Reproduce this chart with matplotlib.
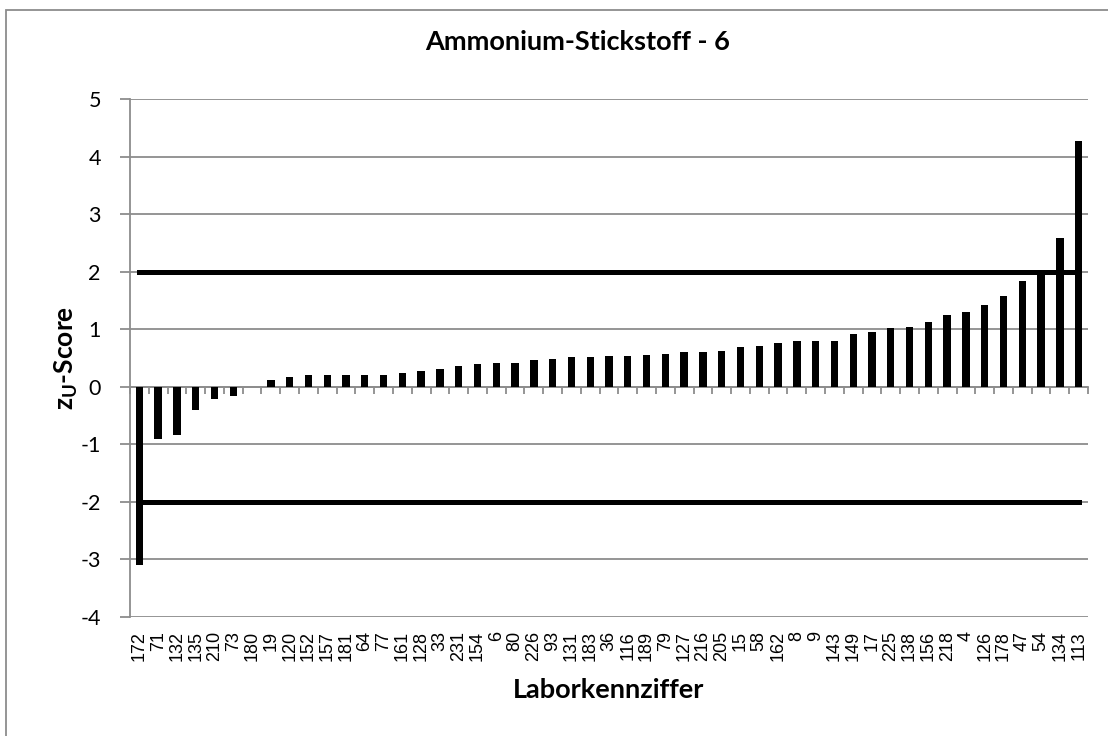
import matplotlib
matplotlib.use('Agg')
import matplotlib.pyplot as plt
from matplotlib.patches import Rectangle
import numpy as np

plt.rcParams['axes.unicode_minus'] = False

# Laborkennziffern in chart order
labs = ['172', '71', '132', '135', '210', '73', '180', '19', '120', '152', '157', '181',
        '64', '77', '161', '128', '33', '231', '154', '6', '80', '226', '93', '131', '183',
        '36', '116', '189', '79', '127', '216', '205', '15', '58', '162', '8', '9', '143',
        '149', '17', '225', '138', '156', '218', '4', '126', '178', '47', '54', '134', '113']

# zU-scores
zu = [-3.09, -0.91, -0.83, -0.41, -0.21, -0.16, 0.0, 0.12, 0.17, 0.20, 0.20, 0.20,
      0.21, 0.21, 0.24, 0.28, 0.31, 0.36, 0.39, 0.41, 0.41, 0.46, 0.49, 0.51, 0.51,
      0.54, 0.54, 0.55, 0.57, 0.60, 0.60, 0.63, 0.69, 0.71, 0.76, 0.79, 0.79, 0.79,
      0.92, 0.95, 1.02, 1.04, 1.13, 1.25, 1.30, 1.42, 1.58, 1.84, 1.97, 2.59, 4.27]

limit_hi = 2
limit_lo = -2

GRID = '#8c8c8c'
x = np.arange(len(labs))

fig = plt.figure(figsize=(11.08, 7.36), dpi=100)
ax = fig.add_axes([0.1173, 0.1617, 0.8647, 0.7038])

# chart area border
fig.patches.append(Rectangle((6 / 1108, -0.05), 1.2, 1 - 10 / 736 + 0.05,
                             transform=fig.transFigure, fill=False,
                             edgecolor=GRID, linewidth=1.3, zorder=0))

ax.bar(x, zu, width=0.39, color='black', zorder=3)
ax.plot(x, [limit_hi] * len(x), color='black', linewidth=3.6, zorder=4)
ax.plot(x, [limit_lo] * len(x), color='black', linewidth=3.6, zorder=4)

ax.set_xlim(-0.5, len(labs) - 0.5)
ax.set_ylim(-4, 5)
ax.set_yticks(range(-4, 6))
ax.yaxis.grid(True, color=GRID, linewidth=1.3, zorder=0)
ax.tick_params(axis='y', length=7, color=GRID, width=1.3, labelsize=15.5, pad=14)
for t in ax.get_yticklabels():
    t.set_fontfamily('Lato')

for s in ['top', 'right']:
    ax.spines[s].set_visible(False)
ax.spines['left'].set_color(GRID)
ax.spines['left'].set_linewidth(1.3)
ax.spines['bottom'].set_position(('data', 0))
ax.spines['bottom'].set_color(GRID)
ax.spines['bottom'].set_linewidth(1.3)
ax.set_xticks(np.arange(len(labs) + 1) - 0.5)
ax.set_xticklabels([])
ax.tick_params(axis='x', length=5, color=GRID, width=1.3, direction='out')

sec = ax.secondary_xaxis(0.0)
sec.set_xticks(x)
sec.set_xticklabels(labs, rotation=90, fontsize=13, family='Liberation Sans')
sec.tick_params(length=0, pad=10)
sec.spines['bottom'].set_visible(False)
sec.set_xlabel('Laborkennziffer', fontsize=19.5, fontweight='bold', family='Lato', labelpad=12)

ax.set_ylabel(r'z$_\mathregular{U}$-Score', fontsize=19, fontweight='bold', family='Lato', labelpad=0)
fig.text(578 / 1108, 1 - 42 / 736, 'Ammonium-Stickstoff - 6', fontsize=19.5,
         fontweight='bold', family='Lato', ha='center', va='center')

fig.savefig('out.png', dpi=100)
